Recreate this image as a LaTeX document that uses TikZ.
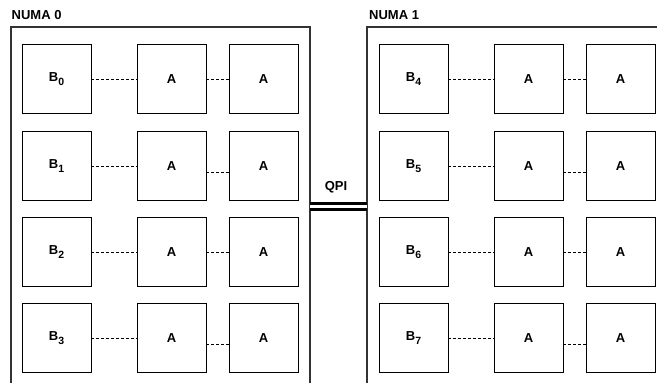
\documentclass[tikz,border=0pt]{standalone}
\usepackage{fontspec}
\setmainfont{Liberation Sans}
\begin{document}
\begin{tikzpicture}[x=1pt,y=-1pt,
  cell/.style={draw=black,line width=0.9pt,minimum width=69pt,minimum height=69pt,inner sep=0pt,font=\bfseries\fontsize{13}{15}\selectfont},
  numa/.style={draw=black!80,line width=1.1pt},
  conn/.style={draw=black,line width=0.7pt,dash pattern=on 3pt off 2pt},
  lbl/.style={font=\bfseries\fontsize{13}{15}\selectfont,inner sep=0pt}]
\useasboundingbox (0,0) rectangle (657,383);
\clip (0,0) rectangle (657,383);
\newcommand{\bsub}[1]{B\raisebox{-3.2pt}{\fontsize{10.5}{12}\selectfont #1}}
% NUMA frames
\draw[numa] (11,400) -- (11,27) -- (310,27) -- (310,400);
\draw[numa] (367,400) -- (367,27) -- (670,27);
\node[lbl,anchor=west] (n0) at (11.5,15.5) {NUMA 0};
\node[lbl,anchor=west] (n1) at (369,15.5) {NUMA 1};
% cells
\foreach \r/\y/\bl/\br in {0/79/0/4,1/166/1/5,2/252/2/6,3/338/3/7}{
  \node[cell] (lb\r) at (56.5,\y) {\bsub{\bl}};
  \node[cell] (la\r) at (171.5,\y) {A};
  \node[cell] (lc\r) at (263.5,\y) {A};
  \node[cell] (rb\r) at (413.5,\y) {\bsub{\br}};
  \node[cell] (ra\r) at (528.5,\y) {A};
  \node[cell] (rc\r) at (620.5,\y) {A};
  \draw[conn] (lb\r) -- (la\r);
  \draw[conn] (rb\r) -- (ra\r);
}
\draw[conn] (la0) -- (lc0);
\draw[conn] (ra0) -- (rc0);
\draw[conn] (la2) -- (lc2);
\draw[conn] (ra2) -- (rc2);
\draw[conn] ([yshift=-6pt]la1.east) -- ([yshift=-6pt]lc1.west);
\draw[conn] ([yshift=-6pt]ra1.east) -- ([yshift=-6pt]rc1.west);
\draw[conn] ([yshift=-6pt]la3.east) -- ([yshift=-6pt]lc3.west);
\draw[conn] ([yshift=-6pt]ra3.east) -- ([yshift=-6pt]rc3.west);
% QPI link
\coordinate (q1) at (310,206);
\coordinate (q2) at (367,206);
\draw[line width=3pt,double=white,double distance=3pt] (q1) -- (q2);
\node[lbl] (qpi) at (336,187) {QPI};
\end{tikzpicture}
\end{document}
